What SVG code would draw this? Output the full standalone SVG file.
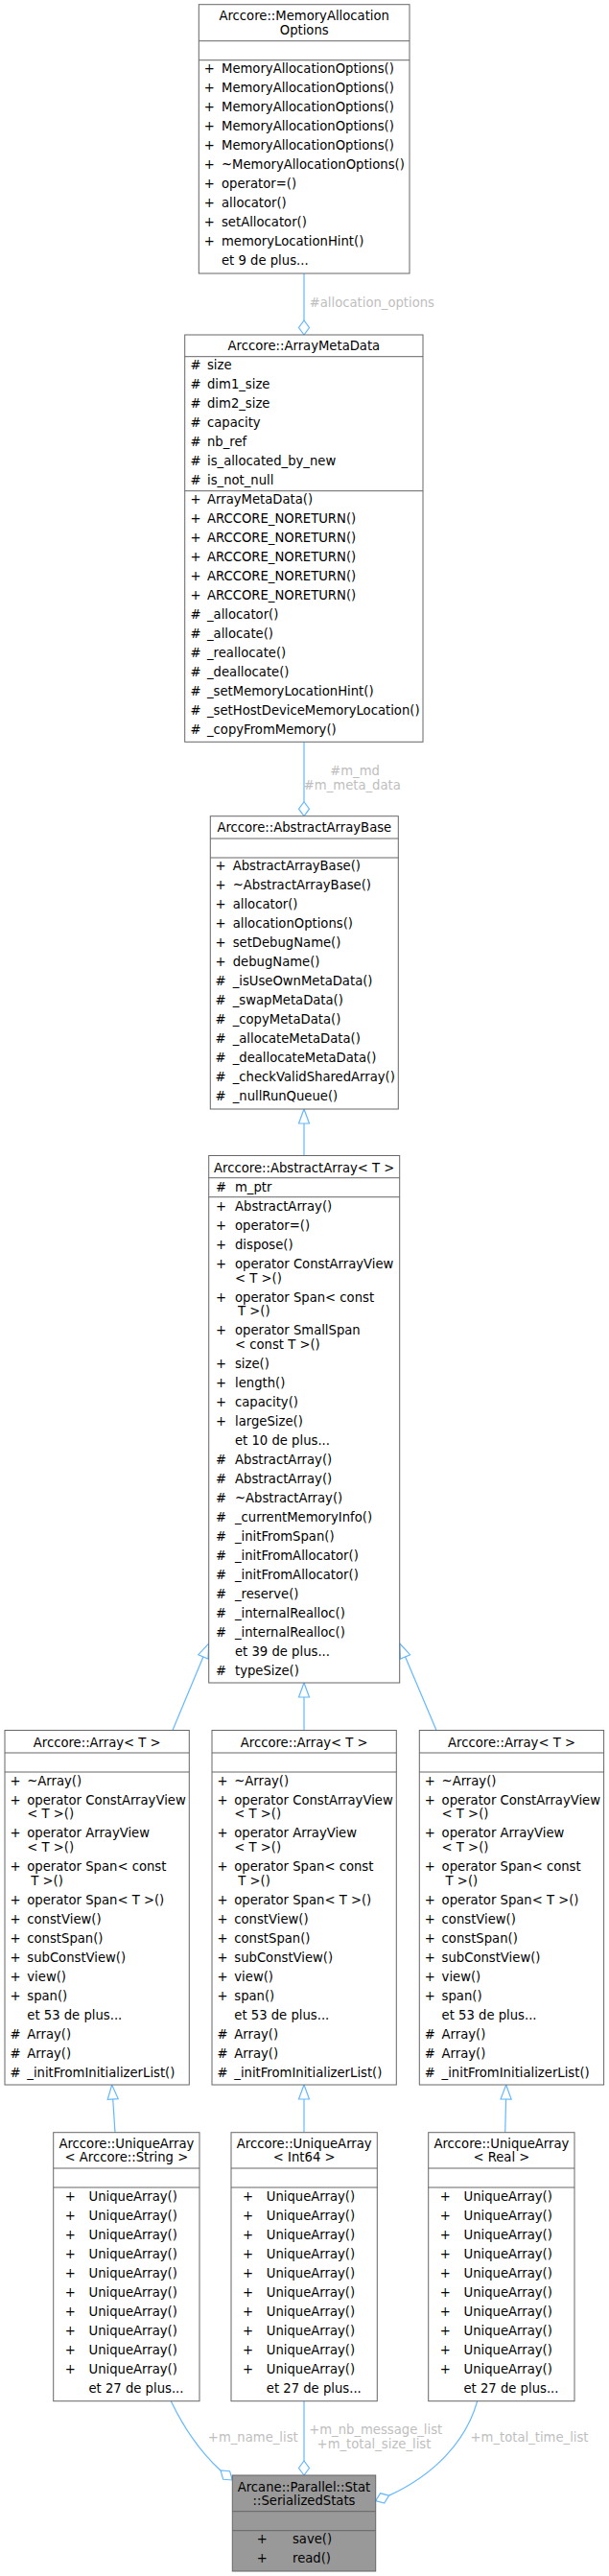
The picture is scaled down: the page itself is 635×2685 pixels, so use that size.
<svg xmlns="http://www.w3.org/2000/svg" width="635" height="2685" viewBox="0 0 635 2685">
<style>
text{font-family:"DejaVu Sans","Liberation Sans",sans-serif;font-size:13.2px;fill:#000}
.c{text-anchor:middle}
.box{fill:#fff;stroke:#666;stroke-width:1}
.focus{fill:#999;stroke:#666;stroke-width:1}
.sep{stroke:#666;stroke-width:1}
.edge{fill:none;stroke:#63b8ff;stroke-width:1.2}
.head{fill:#fff;stroke:#63b8ff;stroke-width:1.2}
.lbl{fill:#bebebe}
</style>
<rect width="635" height="2685" fill="#fff"/>

<g id="connectors">
  <!-- allocation_options -->
  <path class="edge" d="M317,285 V334"/>
  <polygon class="head" points="317,349 311.5,341.5 317,334 322.5,341.5"/>
  <text class="lbl" x="322.7" y="319.7">#allocation_options</text>
  <!-- m_md / m_meta_data -->
  <path class="edge" d="M317,773.3 V835.7"/>
  <polygon class="head" points="317,850.7 311.5,843.2 317,835.7 322.5,843.2"/>
  <text class="lbl c" x="370" y="808">#m_md</text>
  <text class="lbl c" x="367.3" y="823">#m_meta_data</text>
  <!-- AbstractArray -> AbstractArrayBase -->
  <path class="edge" d="M317,1204.5 V1171"/>
  <polygon class="head" points="317,1156 311.5,1171 322.5,1171"/>
  <!-- Arrays -> AbstractArray -->
  <path class="edge" d="M180,1803.5 L211.9,1726.9"/>
  <polygon class="head" points="217.7,1713 217,1729 206.8,1724.7"/>
  <path class="edge" d="M317,1803.5 V1769"/>
  <polygon class="head" points="317,1754 311.5,1769 322.5,1769"/>
  <path class="edge" d="M455,1803.5 L422.5,1726.8"/>
  <polygon class="head" points="416.7,1713 427.6,1724.7 417.4,1729"/>
  <!-- UniqueArrays -> Arrays -->
  <path class="edge" d="M120,2222.7 L117.7,2188"/>
  <polygon class="head" points="116.7,2173 123.2,2187.6 112.2,2188.4"/>
  <path class="edge" d="M317,2222.7 V2188"/>
  <polygon class="head" points="317,2173 311.5,2188 322.5,2188"/>
  <path class="edge" d="M526.7,2222.7 L527.6,2188"/>
  <polygon class="head" points="527.7,2173 533.1,2188.1 522.1,2187.9"/>
  <!-- UniqueArrays -> SerializedStats -->
  <path class="edge" d="M178.3,2502.7 C190,2527 208,2555 230,2575"/>
  <polygon class="head" points="242.3,2585 232.7,2584.3 230,2575 239.6,2575.7"/>
  <text class="lbl c" x="263.8" y="2544.7">+m_name_list</text>
  <path class="edge" d="M317,2502.7 V2565"/>
  <polygon class="head" points="317,2580 311.5,2572.5 317,2565 322.5,2572.5"/>
  <text class="lbl c" x="391.7" y="2537.4">+m_nb_message_list</text>
  <text class="lbl c" x="390" y="2552">+m_total_size_list</text>
  <path class="edge" d="M497.7,2502.7 C486,2545 452,2580 405.6,2601.1"/>
  <polygon class="head" points="391.7,2606.7 400.7,2609 405.6,2601.1 396.6,2598.8"/>
  <text class="lbl c" x="552" y="2544.7">+m_total_time_list</text>
</g>

<g id="n_MemoryAllocationOptions">
  <rect class="box" x="207.3" y="4.7" width="219.7" height="280.3"/>
  <text class="c" x="317.2" y="21.4">Arccore::MemoryAllocation</text>
  <text class="c" x="317.2" y="36.4">Options</text>
  <line class="sep" x1="207.3" y1="42.7" x2="427" y2="42.7"/>
  <line class="sep" x1="207.3" y1="62.7" x2="427" y2="62.7"/>
  <g class="c">
    <text x="218.3" y="76.4">+</text><text x="218.3" y="96.4">+</text><text x="218.3" y="116.4">+</text>
    <text x="218.3" y="136.4">+</text><text x="218.3" y="156.4">+</text><text x="218.3" y="176.4">+</text>
    <text x="218.3" y="196.4">+</text><text x="218.3" y="216.4">+</text><text x="218.3" y="236.4">+</text>
    <text x="218.3" y="256.4">+</text>
  </g>
  <text x="231" y="76.4">MemoryAllocationOptions()</text>
  <text x="231" y="96.4">MemoryAllocationOptions()</text>
  <text x="231" y="116.4">MemoryAllocationOptions()</text>
  <text x="231" y="136.4">MemoryAllocationOptions()</text>
  <text x="231" y="156.4">MemoryAllocationOptions()</text>
  <text x="231" y="176.4">~MemoryAllocationOptions()</text>
  <text x="231" y="196.4">operator=()</text>
  <text x="231" y="216.4">allocator()</text>
  <text x="231" y="236.4">setAllocator()</text>
  <text x="231" y="256.4">memoryLocationHint()</text>
  <text x="231" y="276.4">et 9 de plus...</text>
</g>

<g id="n_ArrayMetaData">
  <rect class="box" x="192.7" y="349" width="248.3" height="424.3"/>
  <text class="c" x="316.9" y="365.4">Arccore::ArrayMetaData</text>
  <line class="sep" x1="192.7" y1="371.7" x2="441" y2="371.7"/>
  <line class="sep" x1="192.7" y1="511.7" x2="441" y2="511.7"/>
  <g class="c">
    <text x="204" y="385.4">#</text><text x="204" y="405.4">#</text><text x="204" y="425.4">#</text>
    <text x="204" y="445.4">#</text><text x="204" y="465.4">#</text><text x="204" y="485.4">#</text>
    <text x="204" y="505.4">#</text>
    <text x="204" y="525.4">+</text><text x="204" y="545.4">+</text><text x="204" y="565.4">+</text>
    <text x="204" y="585.4">+</text><text x="204" y="605.4">+</text><text x="204" y="625.4">+</text>
    <text x="204" y="645.4">#</text><text x="204" y="665.4">#</text><text x="204" y="685.4">#</text>
    <text x="204" y="705.4">#</text><text x="204" y="725.4">#</text><text x="204" y="745.4">#</text>
    <text x="204" y="765.4">#</text>
  </g>
  <text x="216" y="385.4">size</text>
  <text x="216" y="405.4">dim1_size</text>
  <text x="216" y="425.4">dim2_size</text>
  <text x="216" y="445.4">capacity</text>
  <text x="216" y="465.4">nb_ref</text>
  <text x="216" y="485.4">is_allocated_by_new</text>
  <text x="216" y="505.4">is_not_null</text>
  <text x="216" y="525.4">ArrayMetaData()</text>
  <text x="216" y="545.4">ARCCORE_NORETURN()</text>
  <text x="216" y="565.4">ARCCORE_NORETURN()</text>
  <text x="216" y="585.4">ARCCORE_NORETURN()</text>
  <text x="216" y="605.4">ARCCORE_NORETURN()</text>
  <text x="216" y="625.4">ARCCORE_NORETURN()</text>
  <text x="216" y="645.4">_allocator()</text>
  <text x="216" y="665.4">_allocate()</text>
  <text x="216" y="685.4">_reallocate()</text>
  <text x="216" y="705.4">_deallocate()</text>
  <text x="216" y="725.4">_setMemoryLocationHint()</text>
  <text x="216" y="745.4">_setHostDeviceMemoryLocation()</text>
  <text x="216" y="765.4">_copyFromMemory()</text>
</g>

<g id="n_AbstractArrayBase">
  <rect class="box" x="219.3" y="850.7" width="196" height="305.3"/>
  <text class="c" x="317.3" y="867.4">Arccore::AbstractArrayBase</text>
  <line class="sep" x1="219.3" y1="874" x2="415.3" y2="874"/>
  <line class="sep" x1="219.3" y1="894" x2="415.3" y2="894"/>
  <g class="c">
    <text x="230" y="907.4">+</text><text x="230" y="927.4">+</text><text x="230" y="947.4">+</text>
    <text x="230" y="967.4">+</text><text x="230" y="987.4">+</text><text x="230" y="1007.4">+</text>
    <text x="230" y="1027.4">#</text><text x="230" y="1047.4">#</text><text x="230" y="1067.4">#</text>
    <text x="230" y="1087.4">#</text><text x="230" y="1107.4">#</text><text x="230" y="1127.4">#</text>
    <text x="230" y="1147.4">#</text>
  </g>
  <text x="242.7" y="907.4">AbstractArrayBase()</text>
  <text x="242.7" y="927.4">~AbstractArrayBase()</text>
  <text x="242.7" y="947.4">allocator()</text>
  <text x="242.7" y="967.4">allocationOptions()</text>
  <text x="242.7" y="987.4">setDebugName()</text>
  <text x="242.7" y="1007.4">debugName()</text>
  <text x="242.7" y="1027.4">_isUseOwnMetaData()</text>
  <text x="242.7" y="1047.4">_swapMetaData()</text>
  <text x="242.7" y="1067.4">_copyMetaData()</text>
  <text x="242.7" y="1087.4">_allocateMetaData()</text>
  <text x="242.7" y="1107.4">_deallocateMetaData()</text>
  <text x="242.7" y="1127.4">_checkValidSharedArray()</text>
  <text x="242.7" y="1147.4">_nullRunQueue()</text>
</g>

<g id="n_AbstractArray">
  <rect class="box" x="217.7" y="1204.5" width="199" height="549.5"/>
  <text class="c" x="317.2" y="1222">Arccore::AbstractArray&lt; T &gt;</text>
  <line class="sep" x1="217.7" y1="1227.7" x2="416.7" y2="1227.7"/>
  <line class="sep" x1="217.7" y1="1247.7" x2="416.7" y2="1247.7"/>
  <g class="c">
    <text x="230.5" y="1242">#</text>
    <text x="230.5" y="1262">+</text><text x="230.5" y="1282">+</text><text x="230.5" y="1302">+</text>
    <text x="230.5" y="1322">+</text><text x="230.5" y="1356.5">+</text><text x="230.5" y="1391">+</text>
    <text x="230.5" y="1425.5">+</text><text x="230.5" y="1445.5">+</text><text x="230.5" y="1465.5">+</text>
    <text x="230.5" y="1485.5">+</text>
    <text x="230.5" y="1525.5">#</text><text x="230.5" y="1545.5">#</text><text x="230.5" y="1565.5">#</text>
    <text x="230.5" y="1585.5">#</text><text x="230.5" y="1605.5">#</text><text x="230.5" y="1625.5">#</text>
    <text x="230.5" y="1645.5">#</text><text x="230.5" y="1665.5">#</text><text x="230.5" y="1685.5">#</text>
    <text x="230.5" y="1705.5">#</text><text x="230.5" y="1745.5">#</text>
  </g>
  <text x="245" y="1242">m_ptr</text>
  <text x="245" y="1262">AbstractArray()</text>
  <text x="245" y="1282">operator=()</text>
  <text x="245" y="1302">dispose()</text>
  <text x="245" y="1322">operator ConstArrayView</text>
  <text x="245" y="1336.5">&lt; T &gt;()</text>
  <text x="245" y="1356.5">operator Span&lt; const</text>
  <text x="248" y="1371">T &gt;()</text>
  <text x="245" y="1391">operator SmallSpan</text>
  <text x="245" y="1405.5">&lt; const T &gt;()</text>
  <text x="245" y="1425.5">size()</text>
  <text x="245" y="1445.5">length()</text>
  <text x="245" y="1465.5">capacity()</text>
  <text x="245" y="1485.5">largeSize()</text>
  <text x="245" y="1505.5">et 10 de plus...</text>
  <text x="245" y="1525.5">AbstractArray()</text>
  <text x="245" y="1545.5">AbstractArray()</text>
  <text x="245" y="1565.5">~AbstractArray()</text>
  <text x="245" y="1585.5">_currentMemoryInfo()</text>
  <text x="245" y="1605.5">_initFromSpan()</text>
  <text x="245" y="1625.5">_initFromAllocator()</text>
  <text x="245" y="1645.5">_initFromAllocator()</text>
  <text x="245" y="1665.5">_reserve()</text>
  <text x="245" y="1685.5">_internalRealloc()</text>
  <text x="245" y="1705.5">_internalRealloc()</text>
  <text x="245" y="1725.5">et 39 de plus...</text>
  <text x="245" y="1745.5">typeSize()</text>
</g>

<defs>
  <g id="arrayBody">
    <rect class="box" x="0" y="1803.5" width="192.3" height="369.5"/>
    <text class="c" x="96.2" y="1821.2">Arccore::Array&lt; T &gt;</text>
    <line class="sep" x1="0" y1="1827" x2="192.3" y2="1827"/>
    <line class="sep" x1="0" y1="1847" x2="192.3" y2="1847"/>
    <g class="c">
      <text x="11" y="1861.2">+</text><text x="11" y="1881">+</text><text x="11" y="1915.3">+</text>
      <text x="11" y="1950">+</text><text x="11" y="1985">+</text><text x="11" y="2005">+</text>
      <text x="11" y="2025">+</text><text x="11" y="2045">+</text><text x="11" y="2065">+</text>
      <text x="11" y="2085">+</text>
      <text x="11" y="2125">#</text><text x="11" y="2145">#</text><text x="11" y="2165">#</text>
    </g>
    <text x="23.3" y="1861.2">~Array()</text>
    <text x="23.3" y="1881">operator ConstArrayView</text>
    <text x="23.3" y="1895.3">&lt; T &gt;()</text>
    <text x="23.3" y="1915.3">operator ArrayView</text>
    <text x="23.3" y="1929.8">&lt; T &gt;()</text>
    <text x="23.3" y="1950">operator Span&lt; const</text>
    <text x="27.3" y="1964.5">T &gt;()</text>
    <text x="23.3" y="1985">operator Span&lt; T &gt;()</text>
    <text x="23.3" y="2005">constView()</text>
    <text x="23.3" y="2025">constSpan()</text>
    <text x="23.3" y="2045">subConstView()</text>
    <text x="23.3" y="2065">view()</text>
    <text x="23.3" y="2085">span()</text>
    <text x="23.3" y="2105">et 53 de plus...</text>
    <text x="23.3" y="2125">Array()</text>
    <text x="23.3" y="2145">Array()</text>
    <text x="23.3" y="2165">_initFromInitializerList()</text>
  </g>
  <g id="uaRows">
    <line class="sep" x1="0" y1="2260" x2="152.3" y2="2260"/>
    <line class="sep" x1="0" y1="2280" x2="152.3" y2="2280"/>
    <g class="c">
      <text x="17.6" y="2293.7">+</text><text x="17.6" y="2313.7">+</text><text x="17.6" y="2333.7">+</text>
      <text x="17.6" y="2353.7">+</text><text x="17.6" y="2373.7">+</text><text x="17.6" y="2393.7">+</text>
      <text x="17.6" y="2413.7">+</text><text x="17.6" y="2433.7">+</text><text x="17.6" y="2453.7">+</text>
      <text x="17.6" y="2473.7">+</text>
    </g>
    <text x="36.8" y="2293.7">UniqueArray()</text>
    <text x="36.8" y="2313.7">UniqueArray()</text>
    <text x="36.8" y="2333.7">UniqueArray()</text>
    <text x="36.8" y="2353.7">UniqueArray()</text>
    <text x="36.8" y="2373.7">UniqueArray()</text>
    <text x="36.8" y="2393.7">UniqueArray()</text>
    <text x="36.8" y="2413.7">UniqueArray()</text>
    <text x="36.8" y="2433.7">UniqueArray()</text>
    <text x="36.8" y="2453.7">UniqueArray()</text>
    <text x="36.8" y="2473.7">UniqueArray()</text>
    <text x="36.8" y="2493.7">et 27 de plus...</text>
  </g>
</defs>

<g id="n_Array_1" transform="translate(5,0)"><use href="#arrayBody"/></g>
<g id="n_Array_2" transform="translate(221,0)"><use href="#arrayBody"/></g>
<g id="n_Array_3" transform="translate(437.3,0)"><use href="#arrayBody"/></g>

<g id="n_UniqueArray_String" transform="translate(55.7,0)">
  <rect class="box" x="0" y="2222.7" width="152.3" height="280"/>
  <text class="c" x="76.2" y="2239.4">Arccore::UniqueArray</text>
  <text class="c" x="76.2" y="2253.4">&lt; Arccore::String &gt;</text>
  <use href="#uaRows"/>
</g>
<g id="n_UniqueArray_Int64" transform="translate(241,0)">
  <rect class="box" x="0" y="2222.7" width="152.3" height="280"/>
  <text class="c" x="76.2" y="2239.4">Arccore::UniqueArray</text>
  <text class="c" x="76.2" y="2253.4">&lt; Int64 &gt;</text>
  <use href="#uaRows"/>
</g>
<g id="n_UniqueArray_Real" transform="translate(446.7,0)">
  <rect class="box" x="0" y="2222.7" width="152.3" height="280"/>
  <text class="c" x="76.2" y="2239.4">Arccore::UniqueArray</text>
  <text class="c" x="76.2" y="2253.4">&lt; Real &gt;</text>
  <use href="#uaRows"/>
</g>

<g id="n_SerializedStats">
  <rect class="focus" x="242.3" y="2580" width="149.4" height="100"/>
  <text class="c" x="317" y="2597">Arcane::Parallel::Stat</text>
  <text class="c" x="317" y="2611.4">::SerializedStats</text>
  <line class="sep" x1="242.3" y1="2617.7" x2="391.7" y2="2617.7"/>
  <line class="sep" x1="242.3" y1="2637.7" x2="391.7" y2="2637.7"/>
  <text class="c" x="273.3" y="2651.4">+</text>
  <text class="c" x="273.3" y="2671.4">+</text>
  <text x="305" y="2651.4">save()</text>
  <text x="305" y="2671.4">read()</text>
</g>
</svg>
